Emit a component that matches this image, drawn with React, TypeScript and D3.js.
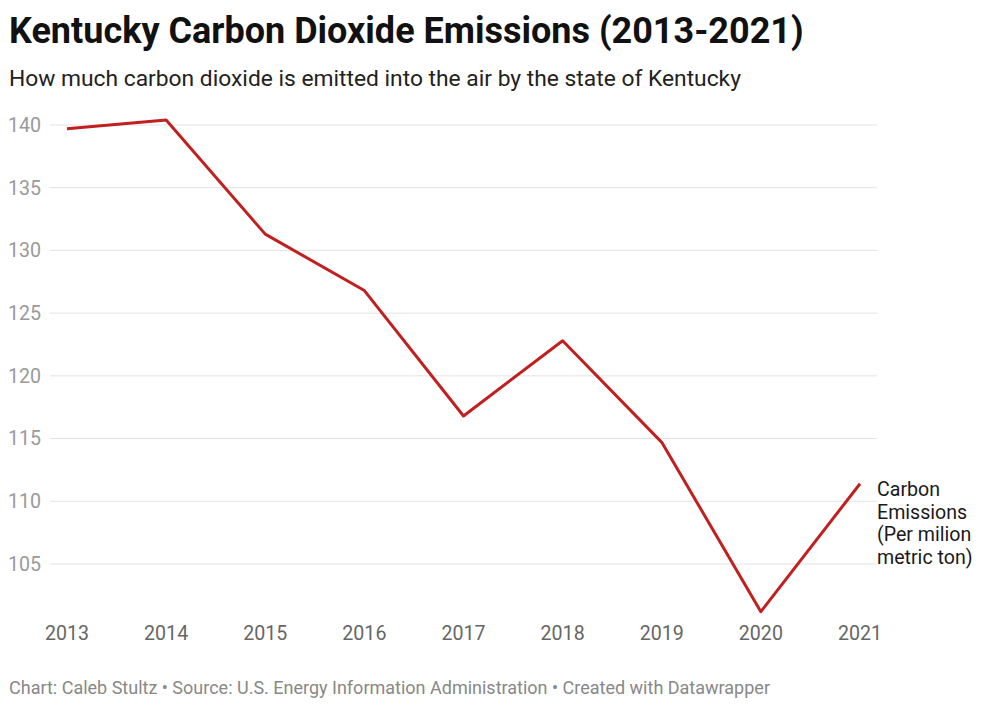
import { useEffect, useRef } from 'react';
import * as d3 from 'd3';

const years = [2013, 2014, 2015, 2016, 2017, 2018, 2019, 2020, 2021];
const emissions = [139.7, 140.4, 131.3, 126.8, 116.8, 122.8, 114.7, 101.2, 111.4];
const yTicks = [105, 110, 115, 120, 125, 130, 135, 140];
const seriesLabel = ['Carbon', 'Emissions', '(Per milion', 'metric ton)'];

const W = 1000, H = 707;

export default function App() {
  const svgRef = useRef<SVGSVGElement>(null);

  useEffect(() => {
    document.body.style.margin = '0';
    if (!svgRef.current) return;
    const svg = d3.select(svgRef.current);
    svg.selectAll('*').remove();

    const font = 'Roboto, sans-serif';
    const m = { l: 50, r: 877 };
    const x = d3.scalePoint<number>().domain(years).range([67, 860]);
    const y = d3.scaleLinear().domain([105, 140]).range([564, 125]);

    // Title + subtitle
    svg.append('text').attr('x', 9).attr('y', 43).attr('font-family', font).attr('font-weight', 700)
      .attr('font-size', 36).attr('fill', '#111').text('Kentucky Carbon Dioxide Emissions (2013-2021)');
    svg.append('text').attr('x', 9).attr('y', 86).attr('font-family', font)
      .attr('font-size', 22.8).attr('fill', '#222').text('How much carbon dioxide is emitted into the air by the state of Kentucky');

    const g = svg.append('g');

    // Grid
    g.selectAll('line.grid').data(yTicks).enter().append('line')
      .attr('x1', m.l).attr('x2', m.r).attr('y1', d => y(d)).attr('y2', d => y(d))
      .attr('stroke', '#e3e3e3').attr('stroke-width', 1);
    g.selectAll('text.ytick').data(yTicks).enter().append('text')
      .attr('x', 8).attr('y', d => y(d)).attr('dy', '0.35em')
      .attr('font-family', font).attr('font-size', 19.6).attr('fill', '#9a9a9a').text(d => d);

    // X labels
    g.selectAll('text.xtick').data(years).enter().append('text')
      .attr('x', d => x(d)!).attr('y', 640).attr('text-anchor', 'middle')
      .attr('font-family', font).attr('font-size', 19.6).attr('fill', '#666').text(d => d);

    // Line
    const line = d3.line<number>().x((_, i) => x(years[i])!).y(d => y(d));
    g.append('path').datum(emissions).attr('d', line)
      .attr('fill', 'none').attr('stroke', '#c0201f').attr('stroke-width', 3).attr('stroke-linejoin', 'round');

    // Series label
    const lbl = g.append('text').attr('x', 877).attr('y', 489)
      .attr('font-family', font).attr('font-size', 19.6).attr('fill', '#1a1a1a');
    seriesLabel.forEach((t, i) => {
      lbl.append('tspan').attr('x', 877).attr('dy', i === 0 ? '0.35em' : 22.8).text(t);
    });

    // Footer
    svg.append('text').attr('x', 9).attr('y', 694).attr('font-family', font)
      .attr('font-size', 18).attr('fill', '#888')
      .text('Chart: Caleb Stultz • Source: U.S. Energy Information Administration • Created with Datawrapper');
  }, []);

  return <svg ref={svgRef} width={W} height={H} viewBox={`0 0 ${W} ${H}`} style={{ display: 'block', background: '#fff' }} />;
}
